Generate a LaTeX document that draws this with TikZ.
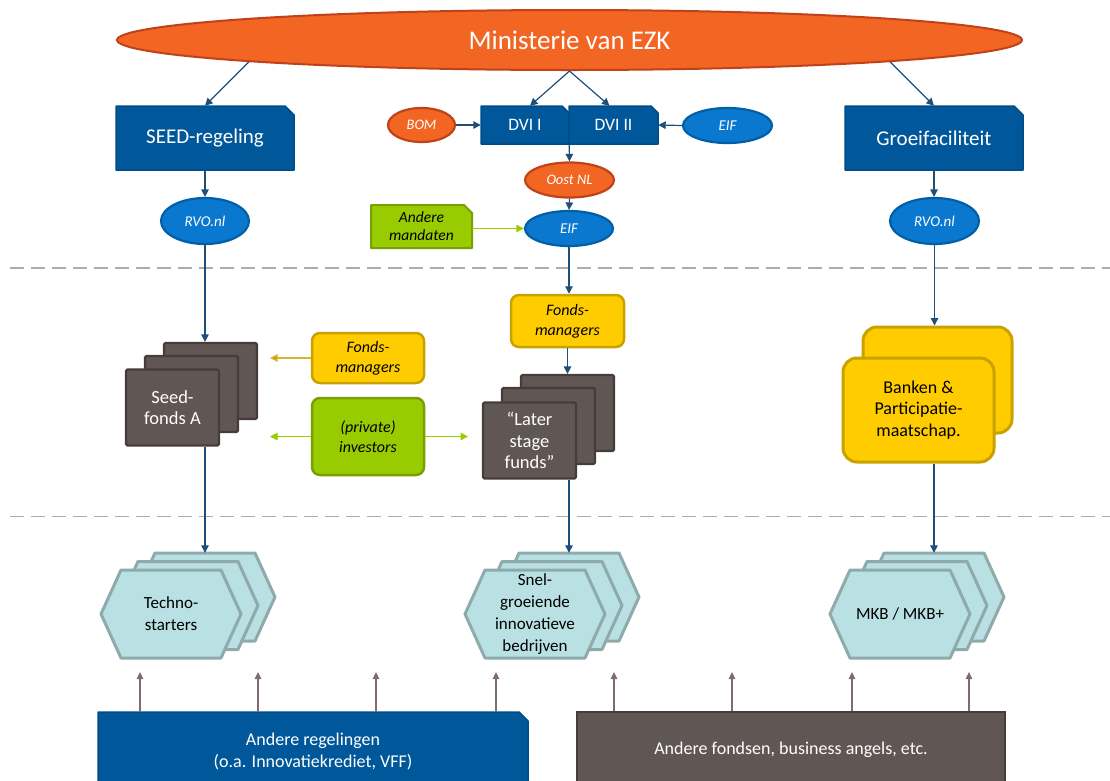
\documentclass[tikz,border=0pt]{standalone}
\usepackage{fontspec}
\setmainfont{Carlito}
\usetikzlibrary{arrows.meta,shapes.geometric}
\definecolor{ezkfill}{HTML}{F26522}
\definecolor{ezkline}{HTML}{C0421A}
\definecolor{bbfill}{HTML}{00589B}
\definecolor{bbline}{HTML}{004C87}
\definecolor{ebfill}{HTML}{0A78CF}
\definecolor{ebline}{HTML}{005FA5}
\definecolor{navy}{HTML}{1F4E79}
\definecolor{dkfill}{HTML}{605654}
\definecolor{dkline}{HTML}{463C3B}
\definecolor{yfill}{HTML}{FFCC00}
\definecolor{yline}{HTML}{C9A200}
\definecolor{gfill}{HTML}{99CC00}
\definecolor{gline}{HTML}{78A000}
\definecolor{hfill}{HTML}{B9E0E3}
\definecolor{hline}{HTML}{8EAAAB}
\definecolor{dashc}{HTML}{B5A8A8}
\definecolor{uparc}{HTML}{7D6E6C}
\definecolor{goldarr}{HTML}{C9A200}
\newcommand\myfs[2]{\fontsize{#1}{#2}\selectfont}
\newcommand\chamfbox[6]{\path[#1] (#2,#3) -- ({#4-#6},#3) -- (#4,{#3+#6}) -- (#4,#5) -- (#2,#5) -- cycle;}
\newcommand\hexpoly[2]{\path[hexst] ({#1-70},#2) -- ({#1-50},{#2-44}) -- ({#1+50},{#2-44}) -- ({#1+70},#2) -- ({#1+50},{#2+44}) -- ({#1-50},{#2+44}) -- cycle;}
\begin{document}
\begin{tikzpicture}[x=1pt,y=-1pt,
  arr/.style={draw=navy, line width=1.2pt, -{Triangle[length=7.5pt,width=7.5pt]}},
  garr/.style={draw=gfill, line width=1.2pt, -{Triangle[length=7.5pt,width=7.5pt]}},
  yarr/.style={draw=goldarr!80, line width=1.2pt, -{Triangle[length=7.5pt,width=7.5pt,fill=goldarr]}},
  uparr/.style={draw=uparc, line width=1.2pt, -{Triangle[length=7pt,width=6.5pt]}},
  bluebox/.style={fill=bbfill, draw=bbline, line width=1.5pt, line join=round},
  greenbox/.style={fill=gfill, draw=gline, line width=2pt, line join=round},
  boxtxt/.style={text=white, inner sep=0pt, align=center},
  elo/.style={ellipse, fill=ezkfill, draw=ezkline, line width=2.2pt, text=white, inner sep=0pt, font=\itshape\myfs{14.5}{17}},
  elb/.style={ellipse, fill=ebfill, draw=ebline, line width=2.2pt, text=white, inner sep=0pt, font=\itshape\myfs{15}{17}},
  dark/.style={rectangle, rounded corners=1.5pt, fill=dkfill, draw=dkline, line width=2.2pt, minimum width=93, minimum height=76, text=white, align=center, inner sep=0pt, font=\myfs{18.5}{21.5}},
  ybox/.style={rectangle, rounded corners=8pt, fill=yfill, draw=yline, line width=2.5pt, align=center, inner sep=0pt, font=\itshape\myfs{16}{20}},
  gbox/.style={rectangle, rounded corners=8pt, fill=gfill, draw=gline, line width=2.5pt, align=center, inner sep=0pt, font=\itshape\myfs{16}{20}},
  hexst/.style={fill=hfill, draw=hline, line width=3pt, line join=round},
  hexnode/.style={rectangle, minimum width=141, minimum height=88, inner sep=0pt, align=center, font=\myfs{17}{22}},
  dashln/.style={draw=dashc, line width=1.2pt, dash pattern=on 14pt off 7pt}
]
\useasboundingbox (0,0) rectangle (1110,780);
% dashed separators
\draw[dashln] (10,268) -- (1110,268);
\draw[dashln] (10,516.5) -- (1110,516.5);
% top ellipse
\node[ellipse, fill=ezkfill, draw=ezkline, line width=2pt, minimum width=905, minimum height=60, inner sep=0pt, text=white, font=\myfs{27}{30}] (ezk) at (569.5,40) {Ministerie van EZK};
% blue chamfered boxes
\chamfbox{bluebox}{116}{106}{294}{170}{9}
\node[boxtxt, minimum width=178, minimum height=64, font=\myfs{21}{24}] (seed) at (205,138) {SEED-regeling};
\chamfbox{bluebox}{845}{106}{1023}{170}{9}
\node[boxtxt, minimum width=178, minimum height=64, font=\myfs{21}{24}] (groei) at (934,138) {Groeifaciliteit};
\chamfbox{bluebox}{481}{106}{569}{144}{7}
\node[boxtxt, minimum width=88, minimum height=38, font=\myfs{17.5}{20}] (dvi1) at (525,125) {DVI I};
\chamfbox{bluebox}{569}{106}{658}{144}{7}
\node[boxtxt, minimum width=89, minimum height=38, font=\myfs{17.5}{20}] (dvi2) at (613.5,125) {DVI II};
% small ellipses
\node[elo, minimum width=67, minimum height=34] (bom) at (421.5,125) {BOM};
\node[elb, minimum width=89, minimum height=35] (eif1) at (727.5,125.5) {EIF};
\node[elo, minimum width=89, minimum height=35] (oost) at (569.5,180) {Oost NL};
\node[elb, minimum width=88, minimum height=35] (eif2) at (569,228.5) {EIF};
\node[elb, minimum width=88, minimum height=46] (rvol) at (205,221) {RVO.nl};
\node[elb, minimum width=89, minimum height=46] (rvor) at (934.5,221) {RVO.nl};
% andere mandaten
\chamfbox{greenbox}{371}{205}{472}{248}{8}
\node[inner sep=0pt, align=center, minimum width=101, minimum height=43, font=\itshape\myfs{15.5}{18}] (mand) at (421.5,226.5) {Andere\\mandaten};
% fondsmanagers / investors
\node[ybox, minimum width=112, minimum height=50] (fml) at (368,358) {Fonds-\\managers};
\node[gbox, minimum width=112, minimum height=77] (inv) at (368,436.5) {(private)\\investors};
\node[ybox, minimum width=113, minimum height=52] (fmm) at (567.5,321) {Fonds-\\managers};
% dark stacks
\node[dark] (sfb) at (210.5,381) {};
\node[dark] (sfm) at (191.5,394) {};
\node[dark] (sf) at (172.5,407.5) {Seed-\\fonds A};
\node[dark] (lfb) at (567.5,413) {};
\node[dark] (lfm) at (548.5,426) {};
\node[dark] (lf) at (529.5,440.5) {\char"201C Later\\stage\\funds\char"201D};
% yellow stack
\node[rectangle, rounded corners=14pt, fill=yfill, draw=yline, line width=3pt, minimum width=149, minimum height=106] (ybk) at (937.5,380) {};
\node[rectangle, rounded corners=14pt, fill=yfill, draw=yline, line width=3pt, minimum width=151, minimum height=104, align=center, inner sep=0pt, font=\myfs{18}{21.5}] (yb) at (918.5,410) {Banken \&\\Participatie-\\maatschap.};
% hexagon stacks
\hexpoly{205}{597}\hexpoly{188}{605.5}\hexpoly{171}{614}
\node[hexnode] (techb) at (205,597) {};
\node[hexnode] (tech) at (171,614) {Techno-\\starters};
\hexpoly{569}{597}\hexpoly{552}{605.5}\hexpoly{535}{614}
\node[hexnode] (snelb) at (569,597) {};
\node[hexnode] (snel) at (535,614) {Snel-\\groeiende\\innovatieve\\bedrijven};
\hexpoly{934}{597}\hexpoly{917}{605.5}\hexpoly{900}{614}
\node[hexnode] (mkbb) at (934,597) {};
\node[hexnode] (mkb) at (900,614) {MKB / MKB+};
% bottom boxes
\chamfbox{bluebox}{98}{712}{528}{795}{9}
\node[boxtxt, minimum width=430, minimum height=78, font=\myfs{18}{22}] (regel) at (313,751) {Andere regelingen\\(o.a. Innovatiekrediet, VFF)};
\node[rectangle, fill=dkfill, draw=dkline, line width=2pt, minimum width=428, minimum height=78, text=white, inner sep=0pt, font=\myfs{18}{22}] (fondsen) at (791,751) {Andere fondsen, business angels, etc.\rule[-6pt]{0pt}{0pt}};
% connectors from ministry
\draw[arr] (ezk.south west) -- (seed.north);
\draw[arr] (ezk.south east) -- (groei.north);
\draw[arr] (ezk.south) -- ([xshift=5pt]dvi1.north);
\draw[arr] (ezk.south) -- ([xshift=-4pt]dvi2.north);
\draw[arr] (bom.east) -- (dvi1.west);
\draw[arr] (eif1.west) -- (dvi2.east);
\draw[arr] (dvi1.south east) -- (oost.north);
\draw[arr] (oost.south) -- (eif2.north);
\draw[garr] (mand.east |- eif2.west) -- (eif2.west);
\draw[arr] (eif2.south) -- (eif2.south |- fmm.north);
\draw[arr] (fmm.south) -- (lfb.north);
\draw[arr] (seed.south) -- (rvol.north);
\draw[arr] (rvol.south) -- (rvol.south |- sfb.north);
\draw[arr] (groei.south) -- (groei.south |- rvor.north);
\draw[arr] (rvor.south) -- (rvor.south |- ybk.north);
% side arrows
\coordinate (fmtip) at (270,358);
\coordinate (invl) at (270,436.5);
\coordinate (invr) at (468,436.5);
\draw[yarr] (fml.west) -- (fmtip);
\draw[garr] (inv.west) -- (invl);
\draw[garr] (inv.east) -- (invr);
% down to companies
\draw[arr] (techb.north |- sf.south) -- (techb.north);
\draw[arr] (snelb.north |- lf.south) -- (snelb.north);
\draw[arr] (mkbb.north |- yb.south) -- (mkbb.north);
% up arrows from bottom boxes
\foreach \x [count=\i] in {140,258,376,496}{
  \coordinate (ua\i) at (\x,672);
  \draw[uparr] (ua\i |- regel.north) -- (ua\i);
}
\foreach \x [count=\i] in {614,732,852,969}{
  \coordinate (ub\i) at (\x,672);
  \draw[uparr] (ub\i |- fondsen.north) -- (ub\i);
}
\end{tikzpicture}
\end{document}
